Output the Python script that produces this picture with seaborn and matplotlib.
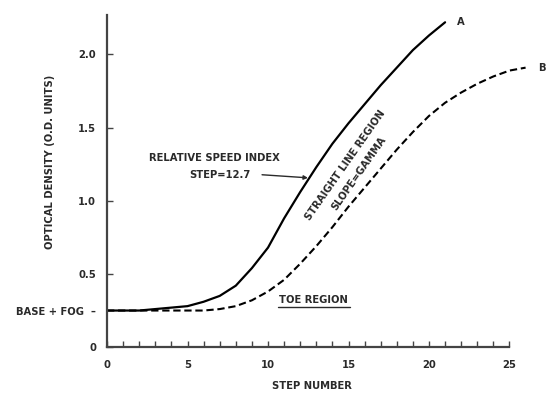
import matplotlib
matplotlib.use("Agg")
import matplotlib.pyplot as plt
import seaborn as sns
import pandas as pd

# ---- data ----
steps_a = list(range(0, 22))
density_a = [0.25, 0.25, 0.25, 0.26, 0.27, 0.28, 0.31, 0.35, 0.42, 0.54, 0.68,
             0.88, 1.06, 1.23, 1.39, 1.53, 1.66, 1.79, 1.91, 2.03, 2.13, 2.22]
steps_b = list(range(0, 27))
density_b = [0.25, 0.25, 0.25, 0.25, 0.25, 0.25, 0.25, 0.26, 0.28, 0.32, 0.38,
             0.46, 0.57, 0.69, 0.82, 0.96, 1.09, 1.22, 1.35, 1.47, 1.58, 1.67,
             1.74, 1.80, 1.85, 1.89, 1.91]
x_ticks = [0, 5, 10, 15, 20, 25]
x_tick_labels = ["0", "5", "10", "15", "20", "25"]
y_ticks = [0, 0.5, 1.0, 1.5, 2.0]
y_tick_labels = ["0", "0.5", "1.0", "1.5", "2.0"]
base_fog = 0.25
speed_index_step = 12.7

sns.set_style("ticks")
plt.rcParams["font.family"] = ["DejaVu Sans"]
TXT = "#2a2a2a"
FS = 7.2

df_a = pd.DataFrame({"step": steps_a, "density": density_a})
df_b = pd.DataFrame({"step": steps_b, "density": density_b})

fig = plt.figure(figsize=(5.46, 3.94), dpi=100)
ax = fig.add_axes([0.196, 0.119, 0.802, 0.843])

sns.lineplot(data=df_a, x="step", y="density", ax=ax, color="black", lw=1.6)
sns.lineplot(data=df_b, x="step", y="density", ax=ax, color="black", lw=1.5,
             linestyle=(0, (3.5, 1.8)))

ax.set_xlim(0, 27.2)
ax.set_ylim(0, 2.27)
for s in ["top", "right"]:
    ax.spines[s].set_visible(False)
ax.spines["bottom"].set_bounds(0, 25)
for s in ["left", "bottom"]:
    ax.spines[s].set_linewidth(1.6)
    ax.spines[s].set_color("#444444")

ax.set_xticks(x_ticks, labels=x_tick_labels)
ax.set_xticks(list(range(0, 26)), minor=True)
ax.set_yticks(y_ticks, labels=y_tick_labels)
ax.set_yticks([base_fog], labels=["BASE + FOG  \u2013"], minor=True)

ax.tick_params(axis="x", which="both", direction="in", length=4, width=1,
               color="#444444", pad=9, labelsize=FS, labelcolor=TXT)
ax.tick_params(axis="y", which="major", direction="in", length=4, width=1,
               color="#444444", pad=8, labelsize=FS, labelcolor=TXT)
ax.tick_params(axis="y", which="minor", direction="out", length=0, width=1,
               color="#444444", pad=8, labelsize=FS, labelcolor=TXT)
for lab in ax.get_xticklabels() + ax.get_yticklabels(which="both"):
    lab.set_fontweight("bold")

ax.set_xlabel("STEP NUMBER", fontsize=FS, fontweight="bold", color=TXT)
ax.set_ylabel("OPTICAL DENSITY (O.D. UNITS)", fontsize=FS, fontweight="bold", color=TXT)
ax.xaxis.set_label_coords(0.468, -0.103)
ax.yaxis.set_label_coords(-0.118, 0.557)

kw = dict(fontsize=FS, fontweight="bold", color=TXT, ha="center", va="center")
ax.text(6.65, 1.295, "RELATIVE SPEED INDEX", **kw)
ax.text(7.0, 1.178, f"STEP={speed_index_step}", **kw)
ax.annotate("", xy=(12.48, 1.157), xytext=(9.63, 1.178),
            arrowprops=dict(arrowstyle="-|>", color=TXT, lw=1,
                            mutation_scale=6, shrinkA=0, shrinkB=0))
ax.text(14.8, 1.24, "STRAIGHT LINE REGION", rotation=55, **kw)
ax.text(15.65, 1.19, "SLOPE=GAMMA", rotation=55, **kw)
ax.text(12.8, 0.325, "TOE REGION", **kw)
ax.plot([10.6, 15.1], [0.272, 0.272], color=TXT, lw=1)
ax.text(22.0, 2.22, "A", clip_on=False, **kw)
ax.text(27.0, 1.91, "B", clip_on=False, **kw)

fig.savefig("out.png", dpi=100)
